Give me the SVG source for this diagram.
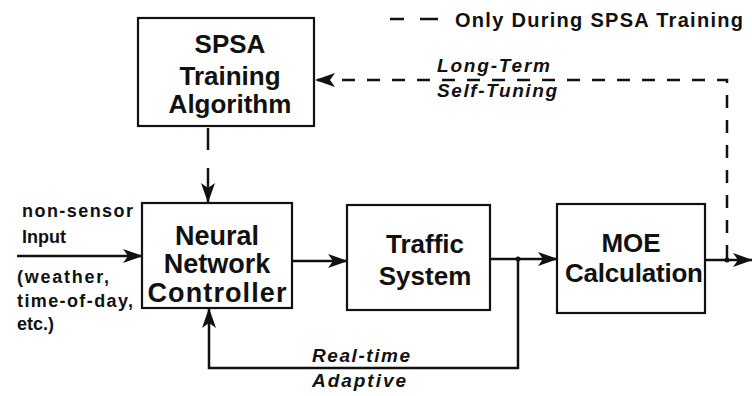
<svg xmlns="http://www.w3.org/2000/svg" width="752" height="396" viewBox="0 0 752 396">
<style>
.box{fill:#fff;stroke:#111;stroke-width:2.2}
.t{font-family:"Liberation Sans",Arial,sans-serif;font-weight:bold;fill:#111;text-anchor:middle}
.big{font-size:26px}
.sm{font-size:18px;text-anchor:start}
.it{font-size:19px;font-style:italic;text-anchor:start}
.ln{fill:none;stroke:#111;stroke-width:2.5}
.dash{fill:none;stroke:#111;stroke-width:2.5;stroke-dasharray:13 12}
</style>
<defs>
<marker id="ah" viewBox="0 0 20 14" refX="19" refY="7" markerWidth="20" markerHeight="14" markerUnits="userSpaceOnUse" orient="auto">
<path d="M0,0 L20,7 L0,14 L5,7 Z" fill="#111"/>
</marker>
</defs>
<rect width="752" height="396" fill="#fff"/>
<g id="legend">
<line x1="390" y1="19" x2="404" y2="19" class="ln"/>
<line x1="420" y1="19" x2="438" y2="19" class="ln"/>
<text x="455" y="27" class="t sm" style="font-size:20px" textLength="288" lengthAdjust="spacing">Only During SPSA Training</text>
</g>
<g id="connectors">
<line x1="17" y1="256" x2="142" y2="256" class="ln" marker-end="url(#ah)"/>
<line x1="292" y1="261" x2="347" y2="261" class="ln" marker-end="url(#ah)"/>
<line x1="490" y1="259" x2="557" y2="259" class="ln" marker-end="url(#ah)"/>
<line x1="705" y1="260" x2="752" y2="260" class="ln" marker-end="url(#ah)"/>
<polyline points="518,259 518,368 209,368 209,309" class="ln" marker-end="url(#ah)"/>
<circle cx="518" cy="259" r="2.5" fill="#111"/>
<circle cx="727" cy="260" r="2.5" fill="#111"/>
<line x1="208" y1="128" x2="208" y2="150" class="ln"/>
<line x1="208" y1="168" x2="208" y2="202" class="ln" marker-end="url(#ah)"/>
<path d="M727,258 L727,80 L316,80" class="dash" marker-end="url(#ah)"/>
<text x="437" y="72" class="t it" textLength="113" lengthAdjust="spacing">Long-Term</text>
<text x="437" y="97" class="t it" textLength="120" lengthAdjust="spacing">Self-Tuning</text>
<text x="312" y="362" class="t it" textLength="98" lengthAdjust="spacing">Real-time</text>
<text x="312" y="387" class="t it" textLength="94" lengthAdjust="spacing">Adaptive</text>
</g>
<g id="input-label">
<text x="22" y="217" class="t sm" textLength="111" lengthAdjust="spacing">non-sensor</text>
<text x="22" y="243" class="t sm">Input</text>
<text x="17" y="283" class="t sm" textLength="92" lengthAdjust="spacing">(weather,</text>
<text x="17" y="307" class="t sm" textLength="116" lengthAdjust="spacing">time-of-day,</text>
<text x="17" y="330" class="t sm">etc.)</text>
</g>
<g id="spsa">
<rect x="138" y="18" width="176" height="108" class="box"/>
<text x="230" y="53" class="t big">SPSA</text>
<text x="230" y="85" class="t big">Training</text>
<text x="230" y="113" class="t big">Algorithm</text>
</g>
<g id="nnc">
<rect x="142" y="203" width="150" height="105" class="box"/>
<text x="217" y="245" class="t big" style="font-size:27px">Neural</text>
<text x="217" y="273" class="t big" style="font-size:27px">Network</text>
<text x="217" y="302" class="t big" style="font-size:27px" textLength="139" lengthAdjust="spacing">Controller</text>
</g>
<g id="traffic">
<rect x="347" y="205" width="143" height="105" class="box"/>
<text x="425" y="253" class="t big">Traffic</text>
<text x="425" y="285" class="t big">System</text>
</g>
<g id="moe">
<rect x="557" y="204" width="148" height="109" class="box"/>
<text x="631" y="252" class="t big">MOE</text>
<text x="634" y="282" class="t big" textLength="138" lengthAdjust="spacing">Calculation</text>
</g>
</svg>
